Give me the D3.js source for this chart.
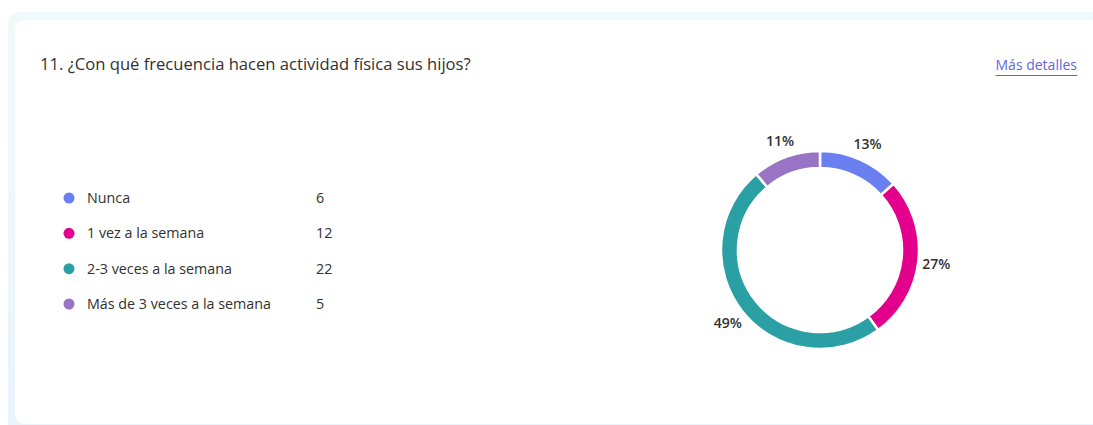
<!DOCTYPE html>
<html>
<head>
<meta charset="utf-8">
<script src="https://cdn.jsdelivr.net/npm/d3@7"></script>
<style>
  html, body { margin: 0; padding: 0; background: #ffffff; overflow: hidden; }
  svg { display: block; }
</style>
</head>
<body>
<svg id="chart" width="1093" height="425"></svg>
<script>
const title = "11. ¿Con qué frecuencia hacen actividad física sus hijos?";
const linkText = "Más detalles";
const categories = ["Nunca", "1 vez a la semana", "2-3 veces a la semana", "Más de 3 veces a la semana"];
const values = [6, 12, 22, 5];
const colors = ["#6a7ff0", "#e3008c", "#2aa0a4", "#9a74c4"];

const svg = d3.select("#chart");
const font = "'Open Sans', 'Noto Sans', sans-serif";

// background panels
const defs = svg.append("defs");
const grad = defs.append("linearGradient").attr("id", "bg").attr("x1", 0).attr("y1", 0).attr("x2", 0).attr("y2", 1);
grad.append("stop").attr("offset", "0%").attr("stop-color", "#f1fafa");
grad.append("stop").attr("offset", "100%").attr("stop-color", "#e9f3fd");
svg.append("rect").attr("x", 8).attr("y", 12).attr("width", 1100).attr("height", 430)
  .attr("rx", 10).attr("fill", "url(#bg)");
svg.append("rect").attr("x", 15).attr("y", 20).attr("width", 1100).attr("height", 404)
  .attr("rx", 10).attr("fill", "#ffffff");

// title
svg.append("text").attr("x", 40).attr("y", 70)
  .attr("font-family", font).attr("font-size", 16.6).attr("fill", "#323130")
  .text(title);

// link
const link = svg.append("text").attr("x", 1077).attr("y", 70).attr("text-anchor", "end")
  .attr("font-family", font).attr("font-size", 14).attr("fill", "#5f66e0")
  .text(linkText);
const lb = link.node().getBBox();
svg.append("line").attr("x1", lb.x).attr("x2", lb.x + lb.width).attr("y1", 75.5).attr("y2", 75.5)
  .attr("stroke", "#5f66e0").attr("stroke-width", 1);

// legend
const ly = d3.scalePoint().domain(categories).range([198, 304]);
const leg = svg.append("g").selectAll("g").data(categories).join("g")
  .attr("transform", d => `translate(0,${ly(d)})`);
leg.append("circle").attr("cx", 69).attr("cy", 0).attr("r", 5.5)
  .attr("fill", (d, i) => colors[i]);
leg.append("text").attr("x", 87).attr("y", 0).attr("dy", "0.35em")
  .attr("font-family", font).attr("font-size", 14.3).attr("fill", "#323130")
  .text(d => d);
leg.append("text").attr("x", 316).attr("y", 0).attr("dy", "0.35em")
  .attr("font-family", font).attr("font-size", 14.3).attr("fill", "#323130")
  .text((d, i) => values[i]);

// donut
const cx = 820, cy = 250, rOuter = 99, rInner = 82;
const total = d3.sum(values);
const pie = d3.pie().sort(null).value(d => d)(values);
const arc = d3.arc().innerRadius(rInner).outerRadius(rOuter);
const g = svg.append("g").attr("transform", `translate(${cx},${cy})`);
g.selectAll("path").data(pie).join("path")
  .attr("d", arc).attr("fill", (d, i) => colors[i])
  .attr("stroke", "#ffffff").attr("stroke-width", 2.5);

const labelArc = d3.arc().innerRadius(117).outerRadius(117);
g.selectAll("text.pct").data(pie).join("text").attr("class", "pct")
  .attr("transform", d => `translate(${labelArc.centroid(d)})`)
  .attr("text-anchor", "middle").attr("dy", "0.45em")
  .attr("font-family", font).attr("font-size", 14).attr("font-weight", 600).attr("fill", "#323130")
  .text(d => Math.round(d.value / total * 100) + "%");
</script>
</body>
</html>
